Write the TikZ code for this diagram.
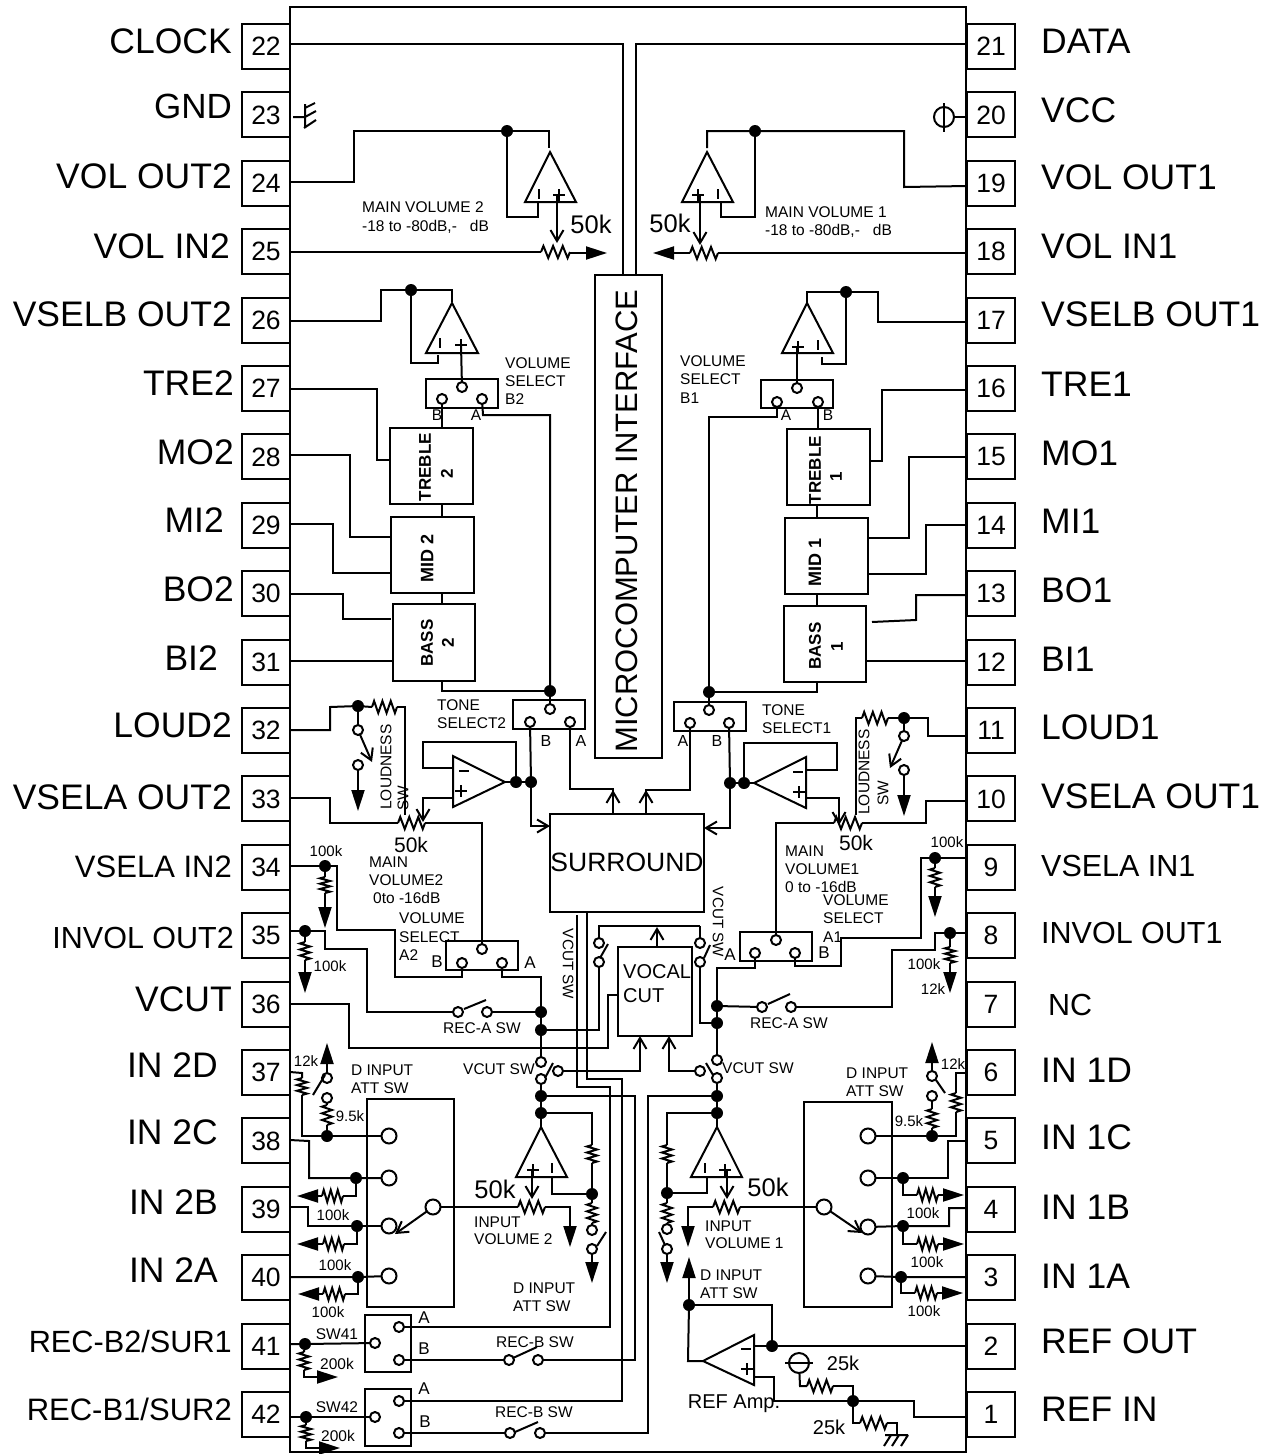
\documentclass[tikz,border=0pt]{standalone}
\usepackage{fontspec}
\setmainfont{Liberation Sans}
\usetikzlibrary{arrows.meta}
\newcounter{lbl}
\tikzset{
  w/.style={line width=2pt},
  ft/.style={-{Triangle[length=21pt,width=13pt]}},
  barb/.style={-{Straight Barb[length=11pt,width=13pt]}},
  jn/.style={circle,fill=black,inner sep=0pt,minimum size=12pt,outer sep=0pt},
  term/.style={circle,draw,fill=white,line width=2pt,inner sep=0pt,minimum size=10pt,outer sep=0pt},
  bigterm/.style={circle,draw,fill=white,line width=2pt,inner sep=0pt,minimum size=15pt,outer sep=0pt},
  box/.style={draw,line width=2pt,inner sep=0pt,outer sep=0pt},
  pinbox/.style={box,minimum width=48pt,minimum height=45pt,font=\fontsize{26.5}{26.5}\selectfont},
}
\newcommand\Jn[3]{\node[jn] (#1) at (#2,#3) {};}
\newcommand\Cn[3]{\node[term] (#1) at (#2,#3) {};}
\newcommand\CBn[3]{\node[bigterm] (#1) at (#2,#3) {};}
\newcommand\Bx[5]{\node[box,minimum width={#4-#2},minimum height={#5-#3}] (#1) at ({(#2+#4)/2},{(#3+#5)/2}) {};}
\newcommand\Tx[5]{\stepcounter{lbl}\node[anchor=#4,inner sep=0pt,font={\fontsize{#3}{#3}\selectfont}] (t\arabic{lbl}) at (#1,{#2+0.36*#3}) {#5};}
\newcommand\Rx[5]{\stepcounter{lbl}\node[rotate=#4,inner sep=0pt,font={\fontsize{#3}{#3}\selectfont}] (t\arabic{lbl}) at (#1,#2) {#5};}
\newcommand\hres[3]{\pgfmathsetmacro\rd{(#2-#1)/6}\draw[w] (#1,#3) -- ++({\rd/2},-6) -- ++(\rd,12) -- ++(\rd,-12) -- ++(\rd,12) -- ++(\rd,-12) -- ++(\rd,12) -- ++({\rd/2},-6);}
\newcommand\vres[3]{\pgfmathsetmacro\rd{(#3-#2)/6}\draw[w] (#1,#2) -- ++(-5,{\rd/2}) -- ++(10,\rd) -- ++(-10,\rd) -- ++(10,\rd) -- ++(-10,\rd) -- ++(10,\rd) -- ++(-5,{\rd/2});}
\newcommand\tri[5]{\draw[w] (#1,#2) -- (#3,#5) -- (#4,#5) -- cycle;}
\newcommand\plusm[2]{\draw[w] ({#1-6},#2) -- ({#1+6},#2) ({#1},{#2-6}) -- (#1,{#2+6});}
\newcommand\vbarm[2]{\draw[w] (#1,{#2-5}) -- (#1,{#2+5});}
\newcommand\hbarm[2]{\draw[w] ({#1-5},#2) -- ({#1+5},#2);}
\begin{document}
\begin{tikzpicture}[x=1pt,y=-1pt]
\useasboundingbox (0,0) rectangle (1270,1454);
% chip and pins
\Bx{chip}{290}{7}{966}{1452}
\foreach \n [count=\k from 0] in {22,...,42}{
  \pgfmathsetmacro\py{46.5+68.4*\k}
  \node[pinbox] (p\n) at (266,\py) {\n};
}
\foreach \n [count=\k from 0] in {21,20,...,1}{
  \pgfmathsetmacro\py{46.5+68.4*\k}
  \node[pinbox] (p\n) at (991,\py) {\n};
}
% pin names left
\Tx{232}{41}{35.5}{base east}{CLOCK}
\Tx{232}{106}{35}{base east}{GND}
\Tx{232}{176}{35.5}{base east}{VOL OUT2}
\Tx{230}{246}{35.5}{base east}{VOL IN2}
\Tx{232}{314}{35.5}{base east}{VSELB OUT2}
\Tx{234}{383}{35.5}{base east}{TRE2}
\Tx{234}{452}{35.5}{base east}{MO2}
\Tx{224}{520}{35.5}{base east}{MI2}
\Tx{234}{589}{35.5}{base east}{BO2}
\Tx{218}{658}{35.5}{base east}{BI2}
\Tx{232}{725}{35.5}{base east}{LOUD2}
\Tx{232}{797}{35.5}{base east}{VSELA OUT2}
\Tx{232}{866}{31}{base east}{VSELA IN2}
\Tx{234}{938}{30.5}{base east}{INVOL OUT2}
\Tx{232}{999}{35.5}{base east}{VCUT}
\Tx{218}{1065}{35.5}{base east}{IN 2D}
\Tx{218}{1132}{35.5}{base east}{IN 2C}
\Tx{218}{1202}{35.5}{base east}{IN 2B}
\Tx{218}{1270}{35.5}{base east}{IN 2A}
\Tx{232}{1341}{30.7}{base east}{REC-B2/SUR1}
\Tx{232}{1409}{31}{base east}{REC-B1/SUR2}
% pin names right
\Tx{1041}{41}{35.5}{base west}{DATA}
\Tx{1041}{110}{35.5}{base west}{VCC}
\Tx{1041}{177}{35.5}{base west}{VOL OUT1}
\Tx{1041}{246}{35.5}{base west}{VOL IN1}
\Tx{1041}{314}{35.5}{base west}{VSELB OUT1}
\Tx{1041}{384}{35.5}{base west}{TRE1}
\Tx{1041}{453}{35.5}{base west}{MO1}
\Tx{1041}{521}{35.5}{base west}{MI1}
\Tx{1041}{590}{35.5}{base west}{BO1}
\Tx{1041}{659}{35.5}{base west}{BI1}
\Tx{1041}{727}{35.5}{base west}{LOUD1}
\Tx{1041}{796}{35.5}{base west}{VSELA OUT1}
\Tx{1041}{866}{30.5}{base west}{VSELA IN1}
\Tx{1041}{933}{30.5}{base west}{INVOL OUT1}
\Tx{1048}{1005}{30.5}{base west}{NC}
\Tx{1041}{1070}{35.5}{base west}{IN 1D}
\Tx{1041}{1137}{35.5}{base west}{IN 1C}
\Tx{1041}{1207}{35.5}{base west}{IN 1B}
\Tx{1041}{1276}{35.5}{base west}{IN 1A}
\Tx{1041}{1341}{35.5}{base west}{REF OUT}
\Tx{1041}{1409}{35.5}{base west}{REF IN}
% central blocks
\Bx{mcu}{595}{275}{662}{758}
\Rx{627}{521}{31}{90}{MICROCOMPUTER INTERFACE}
\node[box,minimum width=154pt,minimum height=98pt,font={\fontsize{26.5}{26.5}\selectfont}] (surround) at (627,862.5) {SURROUND};
\Bx{vocal}{618}{947}{692}{1036}
\Tx{623}{971}{20}{base west}{VOCAL}
\Tx{623}{995}{20}{base west}{CUT}
% tone blocks
\Bx{tre2}{390}{428}{473}{504}
\Bx{mid2}{391}{517}{474}{593}
\Bx{bass2}{393}{604}{475}{681}
\Bx{tre1}{787}{429}{870}{505}
\Bx{mid1}{785}{518}{868}{594}
\Bx{bass1}{784}{606}{866}{682}
\Rx{425}{467}{17}{90}{\bfseries TREBLE}
\Rx{447}{474}{17}{90}{\bfseries 2}
\Rx{427}{558}{18}{90}{\bfseries MID 2}
\Rx{427}{643}{17}{90}{\bfseries BASS}
\Rx{448}{643}{17}{90}{\bfseries 2}
\Rx{815}{470}{17}{90}{\bfseries TREBLE}
\Rx{836}{477}{17}{90}{\bfseries 1}
\Rx{815}{562}{18}{90}{\bfseries MID 1}
\Rx{815}{646}{17}{90}{\bfseries BASS}
\Rx{837}{647}{17}{90}{\bfseries 1}
% selector boxes
\Bx{selb2}{426}{379}{498}{408}
\Cn{b2t}{462}{387}\Cn{b2l}{442}{399}\Cn{b2r}{482}{399}
\Bx{selb1}{761}{380}{833}{408}
\Cn{b1t}{797}{388}\Cn{b1l}{777}{402}\Cn{b1r}{818}{402}
\Bx{tsel2}{513}{700}{585}{729}
\Cn{t2t}{550}{709}\Cn{t2l}{530}{722}\Cn{t2r}{570}{722}
\Bx{tsel1}{674}{702}{746}{731}
\Cn{t1t}{709}{710}\Cn{t1l}{690}{723}\Cn{t1r}{729}{723}
\Bx{sela2}{446}{941}{518}{970}
\Cn{a2t}{482}{949}\Cn{a2l}{462}{963}\Cn{a2r}{502}{963}
\Bx{sela1}{740}{932}{812}{961}
\Cn{a1t}{776}{940}\Cn{a1l}{755}{953}\Cn{a1r}{795}{953}
\Bx{sw41}{365}{1315}{411}{1372}
\Cn{s41c}{375}{1343}\Cn{s41a}{399}{1327}\Cn{s41b}{399}{1360}
\Bx{sw42}{365}{1389}{411}{1446}
\Cn{s42c}{375}{1417}\Cn{s42a}{399}{1401}\Cn{s42b}{399}{1433}
% input selector boxes
\Bx{inp2}{367}{1099}{454}{1307}
\CBn{i2a}{389}{1136}\CBn{i2b}{389}{1178}\CBn{i2c}{389}{1226}\CBn{i2d}{389}{1276}\CBn{i2s}{433}{1207}
\Bx{inp1}{804}{1102}{892}{1307}
\CBn{i1a}{868}{1136}\CBn{i1b}{868}{1178}\CBn{i1c}{868}{1227}\CBn{i1d}{868}{1276}\CBn{i1s}{824}{1207}
% --- wires top
\draw[w] (p22.east|-0,44) -- (623,44) -- (623,0|-mcu.north);
\draw[w] (p21.west|-0,44) -- (636,44) -- (636,0|-mcu.north);
% GND
\draw[w] (293,117) -- (305,117) (305,104) -- (305,128) (304,128) -- (316,120) (305,117) -- (316,111) (305,108) -- (315,103);
% VCC
\node[circle,draw,line width=2pt,minimum size=20pt,inner sep=0pt] (vcc) at (944,117) {};
\draw[w] (944,103) -- (944,132);
\draw[w] (vcc) -- (p20.west|-vcc);
% main vol 2
\Jn{ja}{507}{131}
\draw[w] (p24.east|-0,182) -- (354,182) -- (354,131) -- (ja) -- (549,131) -- (549,148);
\draw[w] (ja) -- (507,217) -- (538,217) -- (538,202);
\tri{550}{152}{525}{576}{202}\vbarm{539}{194}\plusm{559}{195}
\draw[w,barb] (557,195) -- (557,243) coordinate (e1);
\hres{541}{570}{252}
\draw[w] (p25.east|-0,252) -- (541,252);
\draw[w,ft] (570,253) -- (607,253) coordinate (e2);
\Tx{362}{207}{15.5}{base west}{MAIN VOLUME 2}
\Tx{362}{226}{15.5}{base west}{-18 to -80dB,-\ \ \ dB}
\Tx{591}{224}{25.5}{base}{50k}
% main vol 1
\Jn{jb}{755}{131}
\draw[w] (p19.west|-0,186) -- (904,187) -- (904,131) -- (jb) -- (707,131) -- (707,148);
\draw[w] (jb) -- (755,217) -- (721,217) -- (721,202);
\tri{707}{152}{682}{733}{202}\vbarm{718}{194}\plusm{698}{195}
\draw[w,barb] (700,195) -- (700,245) coordinate (e3);
\hres{690}{718}{253}
\draw[w] (p18.west|-0,253) -- (718,253);
\draw[w,ft] (690,253) -- (653,253) coordinate (e4);
\Tx{765}{212}{15.5}{base west}{MAIN VOLUME 1}
\Tx{765}{230}{15.5}{base west}{-18 to -80dB,-\ \ \ dB}
\Tx{670}{223}{25.5}{base}{50k}
% vselb 2
\Jn{jc}{411}{290}
\draw[w] (p26.east|-0,321) -- (381,321) -- (381,290) -- (jc) -- (452,290) -- (452,302);
\draw[w] (jc) -- (411,363) -- (438,363) -- (438,355);
\tri{452}{303}{426}{478}{353}\vbarm{440}{343}\plusm{461}{345}
\draw[w] (461,345) -- (b2t);
\Tx{505}{363}{15.5}{base west}{VOLUME}
\Tx{505}{381}{15.5}{base west}{SELECT}
\Tx{505}{399}{15.5}{base west}{B2}
\Tx{437}{415}{15.5}{base}{B}
\Tx{476}{415}{15.5}{base}{A}
\draw[w] (b2l) -- (442,0|-tre2.north);
\draw[w] (442,0|-tre2.south) -- (442,0|-mid2.north);
\draw[w] (442,0|-mid2.south) -- (442,0|-bass2.north);
\Jn{jd}{550}{691}
\draw[w] (b2r) -- (483,415) -- (550,415) -- (jd);
\draw[w] (442,0|-bass2.south) -- (442,691) -- (jd);
\draw[w] (jd) -- (t2t);
\draw[w] (p27.east|-0,389) -- (377,389) -- (377,460) -- (tre2.west|-0,460);
\draw[w] (p28.east|-0,455) -- (350,455) -- (350,537) -- (mid2.west|-0,537);
\draw[w] (p29.east|-0,524) -- (333,524) -- (333,573) -- (mid2.west|-0,573);
\draw[w] (p30.east|-0,594) -- (343,594) -- (343,619) -- (391,619);
\draw[w] (p31.east|-0,661) -- (bass2.west|-0,661);
% vselb 1
\Jn{je}{846}{292}
\draw[w] (p17.west|-0,322) -- (878,322) -- (878,292) -- (je) -- (807,292) -- (807,303);
\draw[w] (je) -- (846,364) -- (822,364) -- (822,357);
\tri{807}{303}{782}{833}{353}\vbarm{818}{345}\plusm{798}{347}
\draw[w] (797,347) -- (b1t);
\Tx{680}{361}{15.5}{base west}{VOLUME}
\Tx{680}{379}{15.5}{base west}{SELECT}
\Tx{680}{398}{15.5}{base west}{B1}
\Tx{786}{415}{15.5}{base}{A}
\Tx{828}{415}{15.5}{base}{B}
\draw[w] (b1r) -- (818,0|-tre1.north);
\draw[w] (817,0|-tre1.south) -- (817,0|-mid1.north);
\draw[w] (817,0|-mid1.south) -- (817,0|-bass1.north);
\Jn{jf}{709}{692}
\draw[w] (b1l) -- (777,417) -- (709,417) -- (jf);
\draw[w] (817,0|-bass1.south) -- (817,692) -- (jf);
\draw[w] (jf) -- (t1t);
\draw[w] (p16.west|-0,390) -- (882,390) -- (882,461) -- (tre1.east|-0,461);
\draw[w] (p15.west|-0,457) -- (909,457) -- (909,538) -- (mid1.east|-0,538);
\draw[w] (p14.west|-0,525) -- (926,525) -- (926,574) -- (mid1.east|-0,574);
\draw[w] (p13.west|-0,595) -- (916,595) -- (916,620) -- (872,622);
\draw[w] (p12.west|-0,661) -- (bass1.east|-0,661);
% tone select labels
\Tx{437}{705}{15.5}{base west}{TONE}
\Tx{437}{723}{15.5}{base west}{SELECT2}
\Tx{762}{710}{15.5}{base west}{TONE}
\Tx{762}{728}{15.5}{base west}{SELECT1}
\Tx{546}{741}{16}{base}{B}
\Tx{581}{741}{16}{base}{A}
\Tx{683}{741}{16}{base}{A}
\Tx{717}{741}{16}{base}{B}
% left mixer
\Jn{jg}{516}{782}\Jn{jh}{531}{782}
\draw[w] (505,782) -- (453,756) -- (453,807) -- cycle;
\hbarm{464}{771}\plusm{461}{791}
\draw[w] (505,782) -- (jg) -- (jh);
\draw[w] (jg) -- (516,742) -- (423,742) -- (423,768) -- (453,768);
\draw[w,barb] (453,798) -- (423,798) -- (423,822) coordinate (e5);
\draw[w] (t2l) -- (jh);
\draw[w,barb] (jh) -- (531,826) -- (surround.west|-0,826);
\draw[w] (t2r) -- (570,789) -- (613,789) -- (613,0|-surround.north);
\draw[w,barb] (613,800) -- (613,790) coordinate (e6);
% right mixer
\Jn{ji}{730}{783}\Jn{jj}{744}{783}
\draw[w] (754,783) -- (806,757) -- (806,808) -- cycle;
\hbarm{798}{772}\plusm{799}{792}
\draw[w] (754,783) -- (jj) -- (ji);
\draw[w] (jj) -- (744,743) -- (837,743) -- (837,770) -- (806,770);
\draw[w,barb] (806,798) -- (839,798) -- (839,825) coordinate (e7);
\draw[w] (t1r) -- (ji);
\draw[w,barb] (ji) -- (730,828) -- (surround.east|-0,828);
\draw[w] (t1l) -- (690,790) -- (646,790) -- (646,0|-surround.north);
\draw[w,barb] (646,800) -- (646,790) coordinate (e8);
% loudness 2
\Jn{jk}{358}{706}\Cn{lo2a}{358}{730}\Cn{lo2b}{358}{765}
\draw[w] (p32.east|-0,730) -- (330,730) -- (330,707) -- (jk) -- (372,707);
\hres{372}{397}{707}
\draw[w] (397,707) -- (405,707) -- (405,815);
\draw[w] (jk) -- (lo2a);
\draw[w,barb] (lo2a) -- (372,762) coordinate (e9);
\draw[w,ft] (lo2b) -- (358,811) coordinate (e10);
\Rx{386}{767}{15.5}{90}{LOUDNESS}
\Rx{403}{798}{15.5}{90}{SW}
\hres{398}{425}{823}
\draw[w] (p33.east|-0,798) -- (330,798) -- (330,823) -- (398,823);
\draw[w] (425,823) -- (482,823) -- (a2t);
\Tx{411}{845}{21}{base}{50k}
% loudness 1
\Jn{jl}{904}{718}\Cn{lo1a}{904}{736}\Cn{lo1b}{904}{770}
\draw[w] (p11.west|-0,736) -- (928,736) -- (928,718) -- (jl) -- (888,718);
\hres{862}{888}{718}
\draw[w] (862,718) -- (856,718) -- (856,815);
\draw[w] (jl) -- (lo1a);
\draw[w,barb] (lo1a) -- (890,768) coordinate (e11);
\draw[w,ft] (lo1b) -- (904,816) coordinate (e12);
\Rx{864}{772}{15.5}{90}{LOUDNESS}
\Rx{883}{793}{15.5}{90}{SW}
\hres{834}{862}{823}
\draw[w] (a1t) -- (776,823) -- (834,823);
\draw[w] (862,823) -- (926,823) -- (926,801) -- (p10.west|-0,801);
\Tx{856}{843}{21}{base}{50k}
% 34/35
\Jn{jm}{325}{866}
\draw[w] (p34.east|-0,866) -- (jm) -- (337,866) -- (337,930) -- (395,930) -- (395,977) -- (462,977) -- (a2l);
\draw[w] (jm) -- (325,877);
\vres{325}{877}{893}
\draw[w,ft] (325,893) -- (325,928) coordinate (e13);
\Tx{326}{851}{15}{base}{100k}
\Jn{jn35}{305}{931}
\Cn{ra2l}{458}{1012}\Cn{ra2r}{487}{1012}
\Jn{jo}{541}{1012}\Jn{jp}{541}{1030}
\draw[w] (p35.east|-0,931) -- (jn35) -- (325,931) -- (325,949) -- (367,949) -- (367,1012) -- (ra2l);
\draw[w] (464,1009) -- (486,1000);
\draw[w] (ra2r) -- (jo);
\draw[w] (jn35) -- (305,942);
\vres{305}{942}{960}
\draw[w,ft] (305,960) -- (305,993) coordinate (e14);
\Tx{330}{966}{15}{base}{100k}
\Tx{399}{918}{15.5}{base west}{VOLUME}
\Tx{399}{937}{15.5}{base west}{SELECT}
\Tx{399}{955}{15.5}{base west}{A2}
\Tx{369}{862}{15.5}{base west}{MAIN}
\Tx{369}{880}{15.5}{base west}{VOLUME2}
\Tx{373}{898}{15.5}{base west}{0to -16dB}
\Tx{437}{961}{17}{base}{B}
\Tx{530}{962}{17}{base}{A}
\Tx{443}{1028}{15.5}{base west}{REC-A SW}
\draw[w] (a2r) -- (502,977) -- (541,977) -- (jo);
\draw[w] (jo) -- (jp);
% vocal cut left side
\Cn{vl1}{599}{943}\Cn{vl2}{599}{962}
\draw[w] (jp) -- (599,1030) -- (vl2);
\draw[w] (600,958) -- (608,944);
\draw[w] (vl1) -- (599,926) -- (700,926);
\draw[w,barb] (657,0|-vocal.north) -- (657,927) coordinate (e15);
\Cn{vr1}{700}{943}\Cn{vr2}{700}{962}
\draw[w] (700,926) -- (vr1);
\draw[w] (704,958) -- (710,945);
\Jn{jq}{717}{1006}\Jn{jr}{717}{1023}
\draw[w] (vr2) -- (700,1023) -- (jr);
\draw[w] (jq) -- (jr);
\draw[w] (jq) -- (717,968) -- (755,968) -- (a1l);
\Jn{js}{935}{858}
\draw[w] (a1r) -- (795,966) -- (841,966) -- (841,938) -- (921,938) -- (921,858) -- (js);
\draw[w] (js) -- (p9.west|-js);
\draw[w] (js) -- (935,868);
\vres{935}{868}{887}
\draw[w,ft] (935,887) -- (935,917) coordinate (e16);
\Tx{947}{842}{15}{base}{100k}
\Jn{jt}{950}{933}
\Cn{ra1l}{762}{1007}\Cn{ra1r}{791}{1007}
\draw[w] (p8.west|-jt) -- (jt) -- (935,933) -- (935,950) -- (892,950) -- (892,1007) -- (ra1r);
\draw[w] (768,1004) -- (790,994);
\draw[w] (ra1l) -- (jq);
\draw[w] (jt) -- (950,947);
\vres{950}{947}{963}
\draw[w,ft] (950,963) -- (950,993) coordinate (e17);
\Tx{924}{964}{15}{base}{100k}
\Tx{933}{989}{15}{base}{12k}
\Tx{785}{851}{15.5}{base west}{MAIN}
\Tx{785}{869}{15.5}{base west}{VOLUME1}
\Tx{785}{887}{15.5}{base west}{0 to -16dB}
\Tx{823}{900}{15.5}{base west}{VOLUME}
\Tx{823}{918}{15.5}{base west}{SELECT}
\Tx{823}{937}{15.5}{base west}{A1}
\Tx{730}{954}{17}{base}{A}
\Tx{824}{952}{17}{base}{B}
\Tx{750}{1023}{15.5}{base west}{REC-A SW}
\Rx{568}{964}{15.2}{-90}{VCUT SW}
\Rx{718}{922}{15.2}{-90}{VCUT SW}
% pin 36
\draw[w] (p36.east|-0,1004) -- (349,1004) -- (349,1048) -- (608,1048) -- (608,995) -- (vocal.west|-0,995);
% vcut switches lower
\Cn{vcl1}{541}{1062}\Cn{vcl2}{541}{1079}\Cn{vcl3}{558}{1071}
\draw[w] (jp) -- (vcl1);
\draw[w] (545,1078) -- (553,1063);
\draw[w,barb] (vcl3) -- (640,1071) -- (640,0|-vocal.south);
\Cn{vcr1}{717}{1060}\Cn{vcr2}{717}{1078}\Cn{vcr3}{700}{1071}
\draw[w] (jr) -- (vcr1);
\draw[w] (706,1063) -- (713,1075);
\draw[w,barb] (vcr3) -- (669,1071) -- (669,0|-vocal.south);
\Tx{463}{1069}{15.5}{base west}{VCUT SW}
\Tx{722}{1068}{15.5}{base west}{VCUT SW}
% surround outputs
\draw[w] (577,915) -- (577,1087) -- (610,1087) -- (610,1327) -- (s41a);
\draw[w] (587,0|-surround.south) -- (587,1079) -- (622,1079) -- (622,1401) -- (s42a);
% input amp 2
\Jn{ju}{541}{1096}\Jn{jv}{541}{1113}\Jn{jw}{592}{1194}
\draw[w] (vcl2) -- (ju) -- (jv) -- (541,1127);
\tri{541}{1127}{516}{567}{1177}\vbarm{552}{1168}\plusm{533}{1170}
\Cn{dl1}{592}{1230}\Cn{dl2}{592}{1249}
\draw[w] (jv) -- (592,1113) -- (592,1145);
\vres{592}{1145}{1163}
\draw[w] (592,1163) -- (jw) -- (592,1203);
\vres{592}{1203}{1223}
\draw[w] (592,1223) -- (dl1);
\draw[w] (597,1246) -- (606,1232);
\draw[w,ft] (dl2) -- (592,1283) coordinate (e18);
\draw[w] (552,1177) -- (552,1194) -- (jw);
\draw[w,barb] (532,1170) -- (532,1199) coordinate (e19);
\hres{518}{545}{1207}
\draw[w] (i2s) -- (518,1207);
\draw[w,ft] (545,1207) -- (570,1207) -- (570,1247) coordinate (e20);
\draw[w,barb] (i2s) -- (395,1234) coordinate (e21);
\Tx{495}{1189}{25.5}{base}{50k}
\Tx{474}{1222}{15.5}{base west}{INPUT}
\Tx{474}{1239}{15.5}{base west}{VOLUME 2}
\Tx{513}{1288}{15.5}{base west}{D INPUT}
\Tx{513}{1306}{15.5}{base west}{ATT SW}
% input amp 1
\Jn{jx}{717}{1096}\Jn{jy}{717}{1113}\Jn{jz}{667}{1193}
\draw[w] (vcr2) -- (jx) -- (jy) -- (717,1127);
\tri{717}{1127}{691}{742}{1177}\vbarm{705}{1168}\plusm{725}{1170}
\Cn{dr1}{667}{1229}\Cn{dr2}{667}{1249}
\draw[w] (jy) -- (667,1113) -- (667,1145);
\vres{667}{1145}{1163}
\draw[w] (667,1163) -- (jz) -- (667,1203);
\vres{667}{1203}{1223}
\draw[w] (667,1223) -- (dr1);
\draw[w] (659,1232) -- (665,1245);
\draw[w,ft] (dr2) -- (667,1283) coordinate (e22);
\draw[w] (707,1177) -- (707,1193) -- (jz);
\draw[w,barb] (727,1170) -- (727,1199) coordinate (e23);
\hres{713}{740}{1207}
\draw[w] (i1s) -- (740,1207);
\draw[w,ft] (713,1207) -- (688,1207) -- (688,1247) coordinate (e24);
\draw[w,barb] (i1s) -- (862,1233) coordinate (e25);
\Tx{768}{1187}{25.5}{base}{50k}
\Tx{705}{1226}{15.5}{base west}{INPUT}
\Tx{705}{1243}{15.5}{base west}{VOLUME 1}
\Tx{700}{1275}{15.5}{base west}{D INPUT}
\Tx{700}{1293}{15.5}{base west}{ATT SW}
% left inputs
\Jn{k1}{327}{1136}\Jn{k2}{356}{1178}\Jn{k3}{357}{1226}\Jn{k4}{358}{1277}
\Cn{da1}{327}{1098}\Cn{da2}{327}{1078}
\draw[w] (p37.east|-0,1072) -- (302,1073) -- (302,1078);
\vres{302}{1078}{1095}
\draw[w] (302,1095) -- (302,1136) -- (k1) -- (i2a);
\draw[w] (k1) -- (327,1125);
\vres{327}{1105}{1125}
\draw[w] (327,1105) -- (da1);
\draw[w] (313,1095) -- (325,1075);
\draw[w,ft] (da2) -- (327,1043) coordinate (e26);
\draw[w] (p38.east|-0,1140) -- (309,1141) -- (309,1178) -- (k2) -- (i2b);
\draw[w] (k2) -- (356,1196) -- (343,1196);
\hres{322}{343}{1196}
\draw[w,ft] (322,1196) -- (297,1196) coordinate (e27);
\draw[w] (p39.east|-0,1207) -- (308,1207) -- (308,1226) -- (k3) -- (i2c);
\draw[w] (k3) -- (357,1244) -- (344,1244);
\hres{323}{344}{1244}
\draw[w,ft] (323,1244) -- (297,1244) coordinate (e28);
\draw[w] (p40.east|-0,1277) -- (k4) -- (i2d);
\draw[w] (k4) -- (358,1294) -- (345,1294);
\hres{323}{345}{1294}
\draw[w,ft] (323,1294) -- (298,1294) coordinate (e29);
\Tx{306}{1061}{15}{base}{12k}
\Tx{350}{1116}{15}{base}{9.5k}
\Tx{351}{1070}{15.5}{base west}{D INPUT}
\Tx{351}{1088}{15.5}{base west}{ATT SW}
\Tx{333}{1215}{15}{base}{100k}
\Tx{335}{1265}{15}{base}{100k}
\Tx{328}{1312}{15}{base}{100k}
% right inputs
\Jn{m1}{932}{1136}\Jn{m2}{903}{1178}\Jn{m3}{903}{1226}\Jn{m4}{901}{1277}
\Cn{db1}{932}{1096}\Cn{db2}{932}{1076}
\draw[w] (p6.west|-0,1073) -- (956,1073) -- (956,1093);
\vres{956}{1093}{1112}
\draw[w] (956,1112) -- (956,1136) -- (m1) -- (i1a);
\draw[w] (m1) -- (932,1128);
\vres{932}{1109}{1128}
\draw[w] (932,1109) -- (db1);
\draw[w] (936,1080) -- (945,1093);
\draw[w,ft] (db2) -- (932,1042) coordinate (e30);
\draw[w] (p5.west|-0,1141) -- (948,1141) -- (948,1178) -- (m2) -- (i1b);
\draw[w] (m2) -- (903,1195) -- (917,1195);
\hres{917}{938}{1195}
\draw[w,ft] (938,1195) -- (964,1195) coordinate (e31);
\draw[w] (p4.west|-0,1208) -- (949,1208) -- (949,1226) -- (m3) -- (i1c);
\draw[w] (m3) -- (903,1244) -- (917,1244);
\hres{917}{938}{1244}
\draw[w,ft] (938,1244) -- (964,1244) coordinate (e32);
\draw[w] (p3.west|-0,1277) -- (m4) -- (i1d);
\draw[w] (m4) -- (901,1293) -- (915,1293);
\hres{915}{937}{1293}
\draw[w,ft] (937,1293) -- (963,1293) coordinate (e33);
\Tx{953}{1064}{15}{base}{12k}
\Tx{909}{1121}{15}{base}{9.5k}
\Tx{846}{1073}{15.5}{base west}{D INPUT}
\Tx{846}{1091}{15.5}{base west}{ATT SW}
\Tx{923}{1213}{15}{base}{100k}
\Tx{927}{1262}{15}{base}{100k}
\Tx{924}{1311}{15}{base}{100k}
% pins 41, 42
\Jn{n1}{305}{1344}\Jn{n2}{306}{1417}
\draw[w] (p41.east|-n1) -- (n1) -- (s41c);
\draw[w] (n1) -- (304,1352);
\vres{304}{1352}{1370}
\draw[w,ft] (304,1370) -- (304,1377) -- (338,1377) coordinate (e34);
\draw[w] (p42.east|-n2) -- (n2) -- (s42c);
\draw[w] (n2) -- (306,1425);
\vres{306}{1425}{1441}
\draw[w,ft] (306,1441) -- (306,1448) -- (340,1448) coordinate (e35);
\Tx{337}{1334}{15.5}{base}{SW41}
\Tx{337}{1364}{15.5}{base}{200k}
\Tx{337}{1407}{15.5}{base}{SW42}
\Tx{338}{1436}{15.5}{base}{200k}
\Tx{424}{1317}{17}{base}{A}
\Tx{424}{1348}{17}{base}{B}
\Tx{424}{1388}{17}{base}{A}
\Tx{425}{1421}{17}{base}{B}
\Cn{rb1l}{509}{1360}\Cn{rb1r}{538}{1360}
\Cn{rb2l}{510}{1433}\Cn{rb2r}{540}{1433}
\draw[w] (s41b) -- (rb1l);
\draw[w] (513,1358) -- (537,1347);
\draw[w] (rb1r) -- (635,1360) -- (635,1096) -- (ju);
\draw[w] (s42b) -- (rb2l);
\draw[w] (515,1432) -- (538,1422);
\draw[w] (rb2r) -- (648,1433) -- (648,1096) -- (jx);
\Tx{496}{1342}{15.5}{base west}{REC-B SW}
\Tx{495}{1412}{15.5}{base west}{REC-B SW}
% ref amp
\Jn{q1}{689}{1305}\Jn{q2}{772}{1346}\Jn{q3}{853}{1401}
\draw[w,ft] (q1) -- (689,1257) coordinate (e36);
\draw[w] (q1) -- (772,1305) -- (q2);
\draw[w] (q2) -- (p2.west|-q2);
\draw[w] (q2) -- (754,1346);
\draw[w] (703,1361) -- (754,1335) -- (754,1385) -- cycle;
\hbarm{746}{1349}\plusm{747}{1369}
\draw[w] (q1) -- (688,1361) -- (703,1361);
\draw[w] (754,1377) -- (774,1377) -- (774,1401) -- (q3);
\draw[w] (q3) -- (914,1401) -- (914,1417) -- (p1.west|-0,1417);
\node[circle,draw,line width=2pt,minimum size=20pt,inner sep=0pt] (vref) at (799,1363) {};
\draw[w] (785,1363) -- (813,1363);
\draw[w] (vref) -- (800,1386) -- (807,1386);
\hres{807}{833}{1386}
\draw[w] (833,1386) -- (853,1386) -- (q3);
\draw[w] (q3) -- (853,1423) -- (860,1423);
\hres{860}{887}{1423}
\draw[w] (887,1423) -- (897,1423) -- (897,1435);
\draw[w] (885,1435) -- (908,1435) (891,1435) -- (884,1446) (899,1435) -- (892,1446) (908,1435) -- (901,1446);
\Tx{843}{1363}{20}{base}{25k}
\Tx{829}{1427}{20}{base}{25k}
\Tx{734}{1401}{20}{base}{REF Amp.}
\end{tikzpicture}
\end{document}
